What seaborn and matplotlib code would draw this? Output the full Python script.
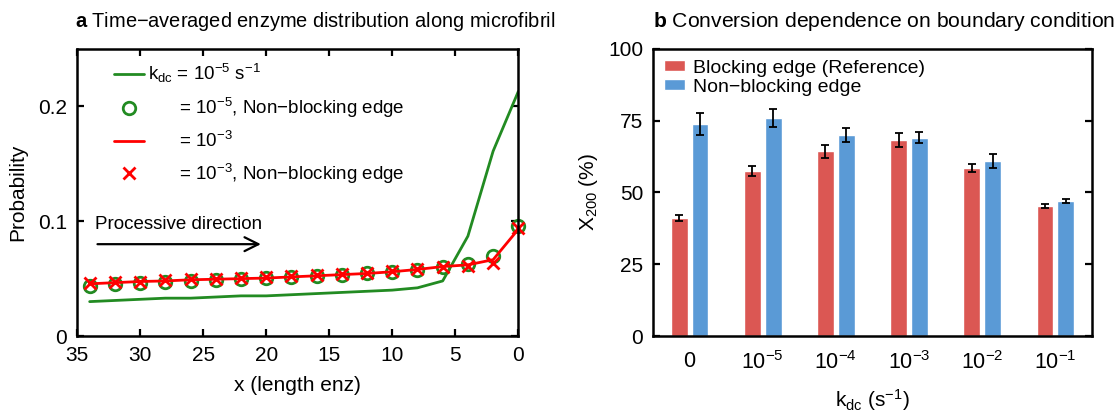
import numpy as np
import pandas as pd
import matplotlib
matplotlib.use("Agg")
import matplotlib.pyplot as plt
import seaborn as sns
from matplotlib.ticker import FuncFormatter

# --- panel a data: probability along the microfibril ---
x_len = [34, 32, 30, 28, 26, 24, 22, 20, 18, 16, 14, 12, 10, 8, 6, 4, 2, 0]
p_k5 = [0.030, 0.031, 0.032, 0.033, 0.033, 0.034, 0.035, 0.035, 0.036,
        0.037, 0.038, 0.039, 0.040, 0.042, 0.048, 0.087, 0.161, 0.213]
p_k5_nb = [0.0440, 0.0450, 0.0460, 0.0470, 0.0480, 0.0490, 0.0495, 0.0505, 0.0515,
           0.0525, 0.0535, 0.0545, 0.0560, 0.0575, 0.0605, 0.0630, 0.0700, 0.0960]
p_k3 = [0.0455, 0.0465, 0.0475, 0.0480, 0.0490, 0.0495, 0.0500, 0.0505, 0.0515,
        0.0525, 0.0535, 0.0545, 0.0560, 0.0580, 0.0605, 0.0620, 0.0665, 0.0930]
p_k3_nb = [0.0460, 0.0470, 0.0475, 0.0485, 0.0495, 0.0500, 0.0505, 0.0510, 0.0520,
           0.0530, 0.0540, 0.0550, 0.0565, 0.0580, 0.0605, 0.0610, 0.0635, 0.0940]

# --- panel b data: conversion X200 ---
kdc_labels = ['0', '$10^{-5}$', '$10^{-4}$', '$10^{-3}$', '$10^{-2}$', '$10^{-1}$']
conditions = ['Blocking edge (Reference)', 'Non\u2212blocking edge']
x200_block = [41.1, 57.5, 64.4, 68.3, 58.5, 45.3]
err_block = [0.9, 1.8, 2.3, 2.5, 1.4, 0.6]
x200_nonblock = [73.9, 75.9, 70.0, 69.0, 61.0, 47.0]
err_nonblock = [3.9, 3.0, 2.3, 1.9, 2.3, 0.7]

green = '#228B22'
red = '#FF0000'
bar_colors = ['#DB5753', '#5A9AD6']

sns.set_style('ticks', {'axes.edgecolor': 'black', 'text.color': 'black',
                        'xtick.color': 'black', 'ytick.color': 'black',
                        'axes.labelcolor': 'black'})
plt.rcParams['font.family'] = ['Liberation Sans', 'DejaVu Sans']
plt.rcParams['mathtext.fontset'] = 'custom'
plt.rcParams['mathtext.rm'] = 'Liberation Sans'
plt.rcParams['mathtext.it'] = 'Liberation Sans'
plt.rcParams['mathtext.bf'] = 'Liberation Sans:bold'
plt.rcParams['axes.linewidth'] = 1.8
plt.rcParams['axes.unicode_minus'] = True

fig = plt.figure(figsize=(11.2, 4.18), dpi=100)
ax1 = fig.add_axes([0.0688, 0.196, 0.394, 0.687])
ax2 = fig.add_axes([0.583, 0.196, 0.392, 0.687])

# ---------------- panel a ----------------
pad_lbl = '      '
sns.lineplot(x=x_len, y=p_k5, ax=ax1, color=green, lw=2,
             label='$k_{dc}$ = 10$^{-5}$ s$^{-1}$')
sns.lineplot(x=x_len, y=p_k5_nb, ax=ax1, color=green, linestyle='none',
             marker='o', markersize=9, markerfacecolor='none',
             markeredgecolor=green, markeredgewidth=2, clip_on=False,
             label=pad_lbl + '= 10$^{-5}$, Non\u2212blocking edge')
sns.lineplot(x=x_len, y=p_k3, ax=ax1, color=red, lw=2,
             label=pad_lbl + '= 10$^{-3}$')
sns.lineplot(x=x_len, y=p_k3_nb, ax=ax1, color=red, linestyle='none',
             marker='x', markersize=8, markeredgecolor=red, markeredgewidth=2,
             clip_on=False,
             label=pad_lbl + '= 10$^{-3}$, Non\u2212blocking edge')

ax1.set_xlim(35, 0)
ax1.set_ylim(0, 0.25)
ax1.set_xticks([35, 30, 25, 20, 15, 10, 5, 0])
ax1.set_yticks([0, 0.1, 0.2])
ax1.yaxis.set_major_formatter(FuncFormatter(lambda v, p: '0' if v == 0 else f'{v:g}'))
ax1.tick_params(direction='in', length=5, width=1.6, labelsize=15,
                top=True, right=True, pad=7)
ax1.set_xlabel('x (length enz)', fontsize=15, labelpad=8)
ax1.set_ylabel('Probability', fontsize=15, labelpad=8)
ax1.set_title('$\\mathbf{a}$ Time\u2212averaged enzyme distribution along microfibril',
              loc='left', fontsize=14.4, pad=16, x=-0.005)
ax1.legend(loc='upper left', frameon=False, fontsize=13.5, handlelength=1.6,
           handletextpad=0.2, labelspacing=0.58, borderaxespad=0.3,
           bbox_to_anchor=(0.055, 1.0))

ax1.annotate('', xy=(20.2, 0.080), xytext=(33.6, 0.080),
             arrowprops=dict(arrowstyle='->', lw=1.6, color='black', mutation_scale=25))
ax1.text(33.6, 0.093, 'Processive direction', fontsize=13.5, va='baseline')

# ---------------- panel b ----------------
df = pd.DataFrame({
    'kdc': kdc_labels * 2,
    'cond': [conditions[0]] * 6 + [conditions[1]] * 6,
    'X': x200_block + x200_nonblock,
    'err': err_block + err_nonblock,
})
sns.barplot(data=df, x='kdc', y='X', hue='cond', palette=bar_colors, ax=ax2,
            width=0.57, gap=0.19, errorbar=None, saturation=1)

for cont, errs in zip(ax2.containers, [err_block, err_nonblock]):
    xs = [b.get_x() + b.get_width() / 2 for b in cont]
    hs = [b.get_height() for b in cont]
    ax2.errorbar(xs, hs, yerr=errs, fmt='none', ecolor='black',
                 elinewidth=1.3, capsize=3, capthick=1.3)

ax2.set_xlim(-0.5, 5.5)
ax2.set_ylim(0, 100)
ax2.set_yticks([0, 25, 50, 75, 100])
ax2.tick_params(axis='y', direction='in', length=5, width=1.6, labelsize=15,
                right=True, pad=7)
ax2.tick_params(axis='x', length=0, labelsize=15.5, pad=11)
ax2.set_xlabel('$k_{dc}$ (s$^{-1}$)', fontsize=15, labelpad=9)
ax2.set_ylabel('X$_{200}$ (%)', fontsize=15, labelpad=6)
ax2.set_title('$\\mathbf{b}$ Conversion dependence on boundary condition',
              loc='left', fontsize=15.2, pad=16, x=0.0)
ax2.legend(loc='upper left', frameon=False, fontsize=14, handlelength=1.1,
           handleheight=0.45, handletextpad=0.4, labelspacing=0.1,
           borderaxespad=0.25, borderpad=0.3, title=None)

fig.savefig('out.png', dpi=100)
